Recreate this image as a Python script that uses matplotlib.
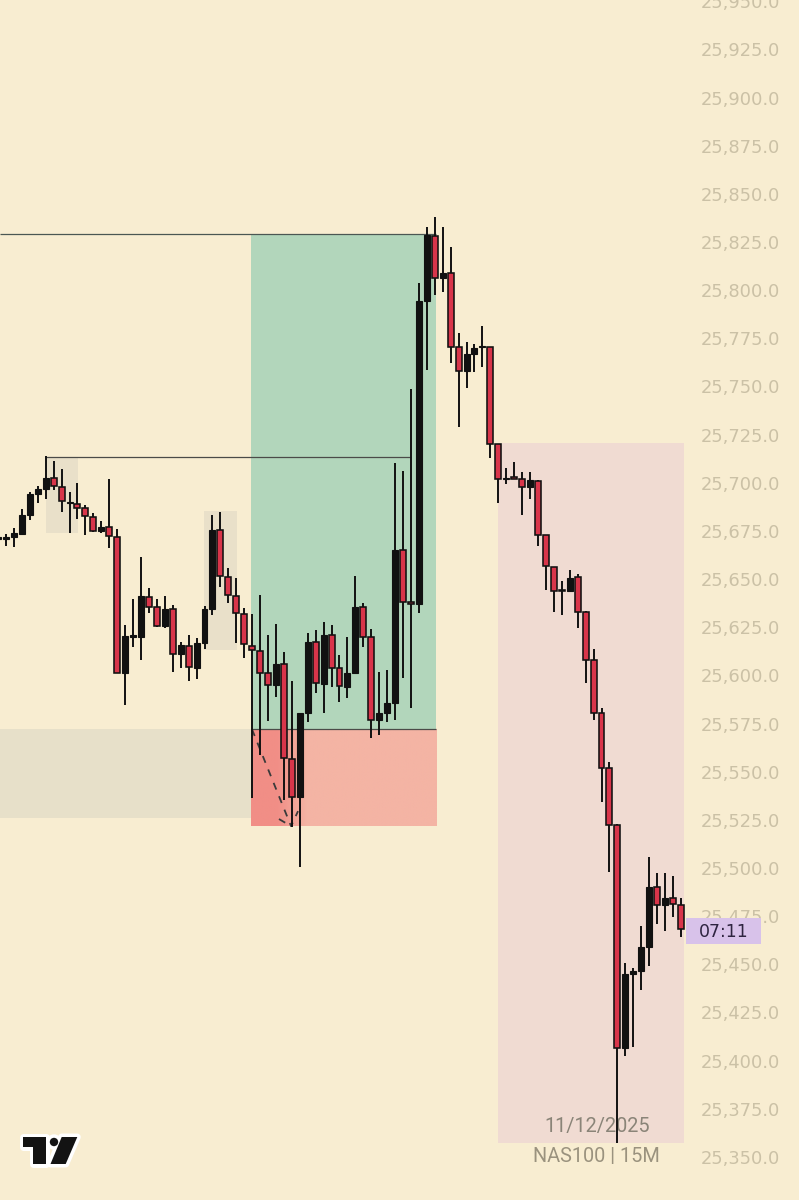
import numpy as np
import matplotlib.pyplot as plt
from matplotlib.patches import Rectangle, Polygon, Circle
from matplotlib.colors import to_rgb
from matplotlib.transforms import blended_transform_factory

# NAS100 15M candles, first one is cut by the left edge (index -1)
opens = [25671.0, 25671.0, 25671.8, 25673.5, 25683.0, 25694.0, 25696.7, 25702.4, 25697.7, 25689.4,
         25688.9, 25686.8, 25682.2, 25674.9, 25677.0, 25671.8, 25601.2, 25619.9, 25619.9, 25640.6,
         25635.4, 25625.6, 25634.4, 25611.0, 25615.2, 25603.8, 25616.8, 25634.4, 25675.4, 25651.0,
         25641.2, 25631.8, 25615.2, 25612.6, 25601.2, 25595.0, 25605.9, 25556.5, 25536.8, 25580.4,
         25617.3, 25595.5, 25620.9, 25603.8, 25593.9, 25601.2, 25635.4, 25619.9, 25576.8, 25580.4,
         25585.6, 25665.0, 25638.0, 25637.0, 25794.3, 25828.1, 25806.3, 25808.8, 25770.4, 25758.0,
         25766.8, 25770.4, 25770.4, 25720.1, 25701.9, 25702.4, 25701.9, 25697.7, 25700.9, 25672.8,
         25656.2, 25644.3, 25643.7, 25651.0, 25632.8, 25607.9, 25580.4, 25551.9, 25522.3, 25406.5,
         25444.9, 25446.4, 25458.9, 25490.1, 25480.7, 25484.4, 25480.7]
highs = [25673.5, 25673.5, 25676.5, 25686.3, 25695.2, 25698.3, 25713.8, 25711.2, 25707.1, 25695.2,
         25699.8, 25688.4, 25684.3, 25680.1, 25701.9, 25676.0, 25626.1, 25639.6, 25661.4, 25645.3,
         25639.6, 25641.2, 25636.5, 25617.3, 25620.9, 25619.4, 25636.0, 25683.2, 25684.8, 25655.7,
         25650.5, 25634.9, 25631.8, 25641.7, 25620.9, 25626.6, 25612.1, 25597.0, 25580.4, 25621.9,
         25623.5, 25627.7, 25626.1, 25610.5, 25619.9, 25651.5, 25637.5, 25624.0, 25601.7, 25602.8,
         25710.2, 25706.0, 25748.6, 25803.7, 25832.7, 25838.0, 25832.7, 25822.4, 25777.7, 25773.0,
         25772.0, 25781.3, 25770.4, 25720.1, 25707.6, 25710.7, 25705.5, 25705.5, 25701.4, 25672.8,
         25656.2, 25648.9, 25654.7, 25652.6, 25633.4, 25613.6, 25583.0, 25555.0, 25522.8, 25450.6,
         25448.0, 25469.8, 25505.6, 25497.3, 25497.3, 25495.8, 25484.4]
lows = [25667.0, 25667.0, 25666.6, 25672.8, 25680.6, 25689.4, 25691.5, 25696.2, 25684.8, 25673.9,
        25681.1, 25672.8, 25674.4, 25673.9, 25666.1, 25601.0, 25584.6, 25614.7, 25607.9, 25632.3,
        25625.1, 25624.6, 25601.7, 25603.8, 25597.0, 25598.1, 25613.6, 25631.3, 25645.8, 25637.5,
        25616.8, 25609.0, 25536.3, 25558.6, 25576.3, 25588.7, 25535.2, 25521.2, 25500.4, 25575.8,
        25590.8, 25580.4, 25593.9, 25586.1, 25588.2, 25600.7, 25614.7, 25567.4, 25569.0, 25575.8,
        25576.8, 25598.6, 25583.0, 25632.3, 25758.5, 25797.4, 25799.0, 25762.1, 25728.9, 25749.1,
        25757.5, 25760.1, 25712.8, 25689.4, 25699.3, 25701.9, 25683.2, 25691.5, 25667.1, 25644.3,
        25632.8, 25631.3, 25643.7, 25624.6, 25596.0, 25576.8, 25534.2, 25497.9, 25357.1, 25402.3,
        25407.0, 25436.6, 25449.0, 25470.9, 25467.2, 25474.5, 25464.1]
closes = [25671.5, 25671.8, 25673.9, 25683.0, 25694.0, 25696.7, 25702.4, 25698.3, 25690.5, 25690.0,
          25686.8, 25682.7, 25674.9, 25677.0, 25672.3, 25601.2, 25620.4, 25620.9, 25641.2, 25635.4,
          25625.6, 25634.4, 25611.0, 25615.7, 25604.3, 25616.8, 25634.4, 25675.4, 25651.5, 25641.7,
          25632.3, 25616.2, 25613.1, 25601.2, 25595.0, 25605.9, 25557.0, 25536.8, 25580.4, 25617.3,
          25596.0, 25620.9, 25603.8, 25594.4, 25601.2, 25635.4, 25619.9, 25576.8, 25580.4, 25585.6,
          25665.0, 25638.0, 25637.0, 25794.3, 25828.6, 25806.3, 25808.8, 25770.4, 25758.0, 25766.8,
          25769.9, 25770.9, 25720.1, 25701.9, 25702.4, 25702.0, 25697.7, 25701.4, 25672.8, 25656.7,
          25643.7, 25643.7, 25650.5, 25632.8, 25607.9, 25580.4, 25551.9, 25522.3, 25406.5, 25444.9,
          25446.4, 25458.9, 25490.1, 25480.7, 25484.4, 25481.2, 25468.3]

price_ticks = np.arange(25350, 25951, 25)
countdown = "07:11"
date_label = "11/12/2025"
symbol_label = "NAS100 | 15M"

# drawn zones: (x0, x1) in bar index, (p0, p1) in price
long_x = (30.86, 54.16)
long_target = 25829.0
long_entry = 25572.0
long_stop = 25521.7
demand_zone = ((-0.76, 30.86), (25526.0, 25572.0))
drop_zone = ((61.96, 85.39), (25357.2, 25720.6))
small_boxes = [((5.04, 9.07), (25673.9, 25713.3)), ((24.94, 29.09), (25613.1, 25685.3))]
swing_line = ((5.0, 51.0), 25713.3)
path_x = [30.98, 35.9, 36.78]
path_y = [25572.0, 25521.7, 25529.5]
tail_x = [34.38, 35.9]
tail_y = [25525.4, 25521.7]

BG = "#f8edd1"
RED = "#d8354a"
DARK = "#111111"

fig = plt.figure(figsize=(7.99, 12), dpi=100, facecolor=BG)
ax = fig.add_axes([0, 0, 686 / 799, 1])
ax.set_facecolor(BG)
for s in ax.spines.values():
    s.set_visible(False)

x = np.arange(len(opens)) - 1
o = np.array(opens)
h = np.array(highs)
l = np.array(lows)
c = np.array(closes)
up = c >= o

# zones
gx0, gx1 = long_x
ax.add_patch(Rectangle((gx0, long_entry), gx1 - gx0, long_target - long_entry,
                       facecolor="#b2d6bb", edgecolor="none", zorder=0.5))
t = np.linspace(0, 1, 300)
mix = np.clip((t - 0.14) / 0.16, 0, 1)[:, None]
grad = (1 - mix) * np.array(to_rgb("#f18e86")) + mix * np.array(to_rgb("#f4b4a4"))
ax.imshow(grad[None, :, :], extent=[gx0, gx1, long_stop, long_entry],
          aspect="auto", zorder=0.5, interpolation="bilinear")
(dx0, dx1), (dp0, dp1) = demand_zone
ax.add_patch(Rectangle((dx0, dp0), dx1 - dx0, dp1 - dp0,
                       facecolor="#e7e0c9", edgecolor="none", zorder=0.4))
(px0, px1), (pp0, pp1) = drop_zone
ax.add_patch(Rectangle((px0, pp0), px1 - px0, pp1 - pp0,
                       facecolor="#f0dbd2", edgecolor="none", zorder=0.4))
for (bx0, bx1), (bp0, bp1) in small_boxes:
    ax.add_patch(Rectangle((bx0, bp0), bx1 - bx0, bp1 - bp0,
                           facecolor="#e9e0c9", edgecolor="none", zorder=0.6))

ax.hlines(long_target, -0.76, gx1, color="#4b5753", lw=0.9, zorder=1)
ax.hlines(long_entry, gx0, gx1, color="#4b4b48", lw=0.9, zorder=1)
ax.hlines(swing_line[1], swing_line[0][0], swing_line[0][1], color="#4b4b48", lw=0.9, zorder=1)
ax.plot(path_x, path_y, color="#3a3a3a", lw=1.3, ls=(0, (4, 4)), zorder=2)
ax.plot(tail_x, tail_y, color="#3a3a3a", lw=1.3, ls=(0, (4, 4)), zorder=2)

# text at the bottom of the drop zone
ax.text(74.4, 25366, date_label, ha="center", va="center", fontsize=14.3,
        family="Roboto", color="#8a8478", zorder=1)
ax.text(74.3, 25350, symbol_label, ha="center", va="center", fontsize=14.3,
        family="Roboto", color="#9a927e", zorder=1)

# candles
ax.vlines(x, l, h, color=DARK, lw=1.4, zorder=3)
body_lo = np.minimum(o, c)
body_h = np.maximum(np.abs(c - o), 0.8)
ax.bar(x[up], body_h[up], bottom=body_lo[up], width=0.75,
       color=DARK, edgecolor=DARK, lw=0.8, zorder=4)
ax.bar(x[~up], body_h[~up], bottom=body_lo[~up], width=0.75,
       color=RED, edgecolor=DARK, lw=1.15, zorder=4)

ax.set_xlim(-0.756, 85.64)
ax.set_ylim(25327.6, 25950.65)
ax.set_xticks([])
ax.yaxis.tick_right()
ax.set_yticks(price_ticks)
ax.set_yticklabels([f"{p:,.1f}" for p in price_ticks])
ax.tick_params(axis="y", length=0, pad=10.8, labelsize=12.9, labelcolor="#cbc1a6")

# countdown label on the price scale
tr = blended_transform_factory(ax.transAxes, ax.transData)
ax.add_patch(Rectangle((1.0, c[-1] - 8.0), 75 / 686, 13.5, transform=tr,
                       facecolor="#d8c2ea", edgecolor="none", clip_on=False, zorder=5))
ax.text(1.0 + 37.5 / 686, c[-1] - 1.3, countdown, transform=tr, ha="center", va="center",
        fontsize=12.5, color="#2e2440", clip_on=False, zorder=6)

# TradingView logo, pixel coordinates
lg = fig.add_axes([0, 0, 1, 1])
lg.set_xlim(0, 799)
lg.set_ylim(1200, 0)
lg.axis("off")
tee = [(22.7, 1137), (46, 1137), (46, 1164), (33.3, 1164), (33.3, 1146.7), (22.7, 1146.7)]
slash = [(61.7, 1137), (77.3, 1137), (65.7, 1164), (50.5, 1164)]
for lw_, fc in [(5, "white"), (0, "#131313")]:
    lg.add_patch(Polygon(tee, closed=True, facecolor=fc, edgecolor="white" if lw_ else "none",
                         lw=lw_, joinstyle="round"))
    lg.add_patch(Polygon(slash, closed=True, facecolor=fc, edgecolor="white" if lw_ else "none",
                         lw=lw_, joinstyle="round"))
    lg.add_patch(Circle((54, 1142), 4.2, facecolor=fc, edgecolor="white" if lw_ else "none", lw=lw_))

fig.savefig("out.png", dpi=100, facecolor=BG)
